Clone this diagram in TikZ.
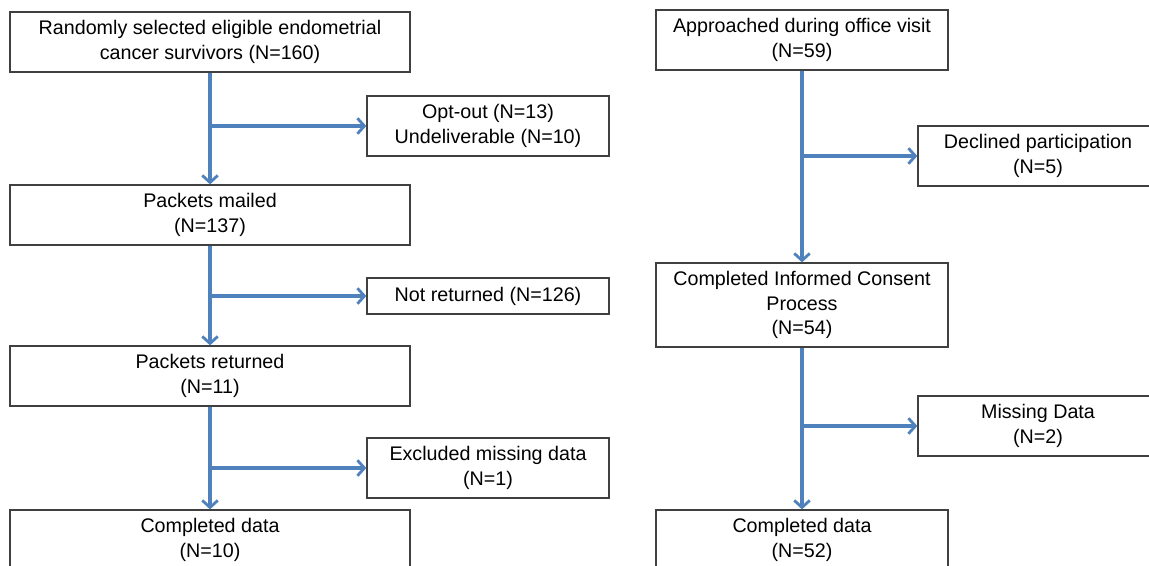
\documentclass[tikz,border=0pt]{standalone}
\usepackage{fontspec}
\setmainfont{Liberation Sans}
\usepackage{xcolor}
\usepackage{tikz}
\usetikzlibrary{arrows.meta}
\definecolor{flowblue}{HTML}{4F81BD}
\definecolor{boxgray}{HTML}{404040}

\begin{document}
\begin{tikzpicture}[x=0.025cm, y=-0.025cm, font=\fontsize{14}{17.5}\selectfont,
                    box/.style = {draw=boxgray, line width=0.9pt, fill=white, align=center, inner sep=0pt, minimum height=1.5cm},
                    mainbox/.style = {box, minimum width=10cm},
                    rightbox/.style = {box, minimum width=7.3cm},
                    sidebox/.style = {box, minimum width=6.05cm},
                    flow/.style = {draw=flowblue, line width=2.2pt, -{Straight Barb[length=5pt, width=11pt, line width=2pt]}}]

        \useasboundingbox (0,0) rectangle (1149,565);
        \clip (0,0) rectangle (1149,565);

        % Left: mailed packets
        \node[mainbox] (sel) at (210, 42) {Randomly selected eligible endometrial\\cancer survivors (N=160)};
        \node[sidebox] (opt) at (488, 126) {Opt-out (N=13)\\Undeliverable (N=10)};
        \node[mainbox] (mailed) at (210, 215) {Packets mailed\\(N=137)};
        \node[sidebox, minimum height=0.9cm] (notret) at (488, 296) {Not returned (N=126)};
        \node[mainbox] (returned) at (210, 376) {Packets returned\\(N=11)};
        \node[sidebox] (excl) at (488, 468) {Excluded missing data\\(N=1)};
        \node[mainbox] (done) at (210, 540) {Completed data\\(N=10)};

        \coordinate (j1) at (sel.south |- opt.west);
        \coordinate (j2) at (mailed.south |- notret.west);
        \coordinate (j3) at (returned.south |- excl.west);
        \draw[flow] (sel) -- (mailed);
        \draw[flow] (mailed) -- (returned);
        \draw[flow] (returned) -- (done);
        \draw[flow] (j1) -- (opt);
        \draw[flow] (j2) -- (notret);
        \draw[flow] (j3) -- (excl);

        % Right: office visits
        \node[rightbox] (appr) at (802, 40) {Approached during office visit\\(N=59)};
        \node[sidebox, minimum width=6cm] (decl) at (1038, 156) {Declined participation\\(N=5)};
        \node[rightbox, minimum height=2.1cm] (consent) at (802, 305) {Completed Informed Consent\\Process\\(N=54)};
        \node[sidebox, minimum width=6cm] (miss) at (1038, 426) {Missing Data\\(N=2)};
        \node[rightbox] (done2) at (802, 540) {Completed data\\(N=52)};

        \coordinate (k1) at (appr.south |- decl.west);
        \coordinate (k2) at (consent.south |- miss.west);
        \draw[flow] (appr) -- (consent);
        \draw[flow] (consent) -- (done2);
        \draw[flow] (k1) -- (decl);
        \draw[flow] (k2) -- (miss);
    \end{tikzpicture}
\end{document}
